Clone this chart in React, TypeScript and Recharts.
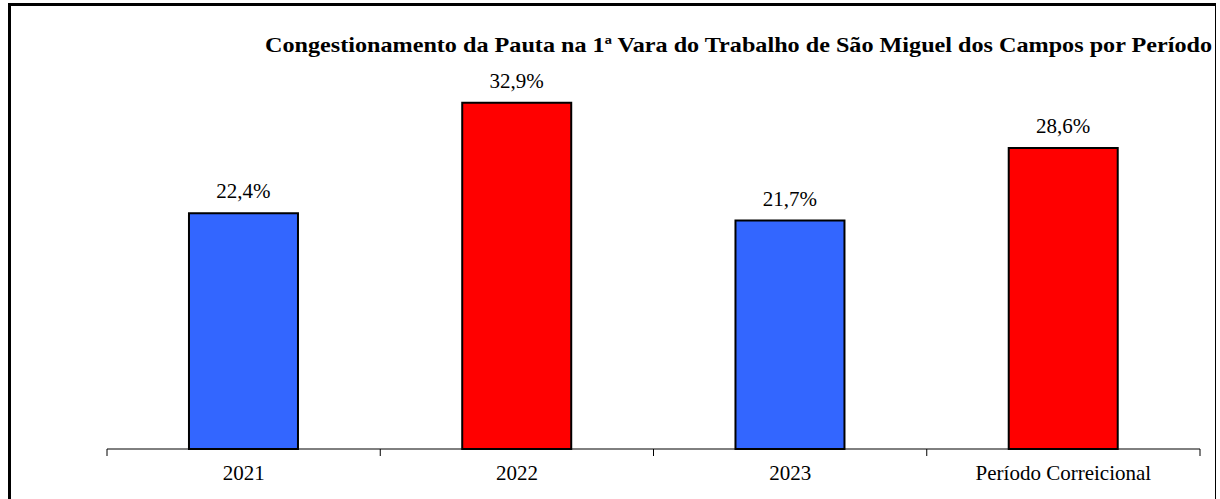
import React from 'react';
import { BarChart, Bar, XAxis, YAxis, LabelList, Cell } from 'recharts';

const categories = ['2021', '2022', '2023', 'Período Correicional'];
const congestionamento = [22.4, 32.9, 21.7, 28.6];
const barColors = ['#3366FF', '#FF0000', '#3366FF', '#FF0000'];
const title = 'Congestionamento da Pauta na 1ª Vara do Trabalho de São Miguel dos Campos por Período';

const data = categories.map((name, i) => ({ name, value: congestionamento[i] }));

const WIDTH = 1220;
const HEIGHT = 499;
const PLOT_LEFT = 107;
const PLOT_RIGHT = 1200;
const BAND = (PLOT_RIGHT - PLOT_LEFT) / categories.length;
const FONT = '"Liberation Serif", "Times New Roman", serif';

const fmt = (v: any) => `${Number(v).toFixed(1).replace('.', ',')}%`;

// tick label centered on the band, tick marks on the band borders
const BoundaryTick = (props: any) => {
  const { x, y, payload, index } = props;
  const axisY = y - 9;
  const left = x - BAND / 2;
  const right = x + BAND / 2;
  return (
    <g>
      <line x1={left} y1={axisY} x2={left} y2={axisY + 7} stroke="#000" strokeWidth={1} />
      {index === categories.length - 1 && (
        <line x1={right} y1={axisY} x2={right} y2={axisY + 7} stroke="#000" strokeWidth={1} />
      )}
      <text x={x} y={y + 22} textAnchor="middle" fontFamily={FONT} fontSize={21} fill="#000">
        {payload.value}
      </text>
    </g>
  );
};

const ValueLabel = (props: any) => {
  const { x, y, width, value } = props;
  return (
    <text x={Number(x) + Number(width) / 2} y={Number(y) - 15} textAnchor="middle" fontFamily={FONT} fontSize={21} fill="#000">
      {fmt(value)}
    </text>
  );
};

export default function App() {
  return (
    <div style={{ position: 'absolute', left: 0, top: 0, width: WIDTH, height: HEIGHT, background: '#fff', overflow: 'hidden' }}>
      <div style={{ position: 'absolute', left: 8, top: 3, width: 3, height: HEIGHT, background: '#000' }} />
      <div style={{ position: 'absolute', left: 8, top: 3, width: 1208, height: 3, background: '#000' }} />
      <div style={{ position: 'absolute', left: 1215, top: 3, width: 1, height: HEIGHT, background: '#000' }} />
      <div style={{ position: 'absolute', left: 0, top: 0 }}>
        <BarChart
          width={WIDTH}
          height={HEIGHT}
          data={data}
          margin={{ top: 28, right: WIDTH - PLOT_RIGHT, bottom: 0, left: PLOT_LEFT }}
          barCategoryGap="30%"
        >
          <text
            x={1212}
            y={52}
            textAnchor="end"
            fontFamily={FONT}
            fontSize={21}
            fontWeight="bold"
            fill="#000"
            textLength={947}
            lengthAdjust="spacingAndGlyphs"
          >
            {title}
          </text>
          <XAxis
            dataKey="name"
            height={50}
            axisLine={{ stroke: '#000', strokeWidth: 1 }}
            tickLine={false}
            tickSize={7}
            tickMargin={2}
            interval={0}
            tick={<BoundaryTick />}
          />
          <YAxis hide domain={[0, 40]} />
          <Bar dataKey="value" stroke="#000" strokeWidth={2} isAnimationActive={false}>
            {data.map((d, i) => (
              <Cell key={d.name} fill={barColors[i]} />
            ))}
            <LabelList dataKey="value" content={<ValueLabel />} />
          </Bar>
        </BarChart>
      </div>
    </div>
  );
}
